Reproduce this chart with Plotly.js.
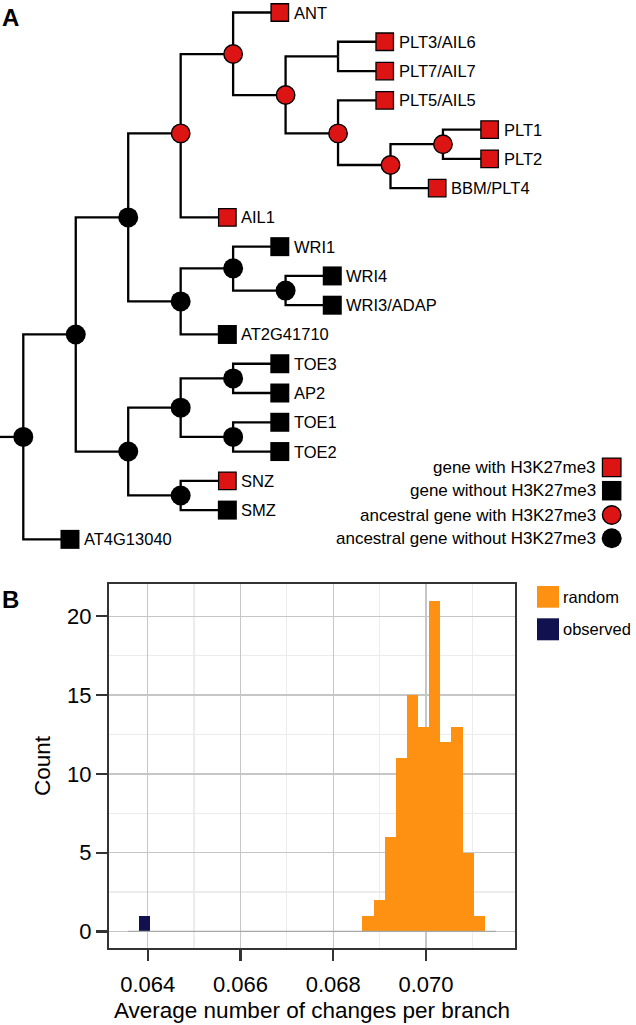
<!DOCTYPE html>
<html>
<head>
<meta charset="utf-8">
<script src="https://cdn.plot.ly/plotly-3.0.1.min.js"></script>
<style>html,body{margin:0;padding:0;background:#fff;}#chart{width:636px;height:1025px;}</style>
</head>
<body>
<div id="chart"></div>
<script>
// ---------------- Panel A data: tree ----------------
const leafNames  = ['ANT','PLT3/AIL6','PLT7/AIL7','PLT5/AIL5','PLT1','PLT2','BBM/PLT4','AIL1','WRI1','WRI4','WRI3/ADAP','AT2G41710','TOE3','AP2','TOE1','TOE2','SNZ','SMZ','AT4G13040'];
const leafParent = ['n4','j','j','n7','n10','n10','n8','n3','n11','n12','n12','n9','n15','n15','n16','n16','n14','n14','root'];
const leafDepth  = [4.89,6.89,6.89,6.89,8.89,8.89,7.89,3.89,4.89,5.89,5.89,3.89,4.89,4.89,4.89,4.89,3.89,3.89,0.89];
const leafRow    = [0,1,2,3,4,5,6,7,8,9,10,11,12,13,14,15,16,17,18];
const leafH3     = [1,1,1,1,1,1,1,1,0,0,0,0,0,0,0,0,1,0,0];

const nodeIds    = ['root','n1','n2','n3','n4','n5','j','n7','n8','n10','n9','n11','n12','n6','n13','n15','n16','n14'];
const nodeParent = [null,'root','n1','n2','n3','n4','n5','n5','n7','n8','n2','n9','n11','n1','n6','n13','n13','n6'];
const nodeDepth  = [0,1,2,3,4,5,6,6,7,8,3,4,5,2,3,4,4,3];
const nodeRow    = [14.5,11.0,7.0,4.13,1.42,2.82,1.5,4.13,5.21,4.5,9.87,8.74,9.5,15.0,13.5,12.5,14.5,16.5];
const nodeH3     = ['no','no','no','yes','yes','yes','none','yes','yes','yes','no','no','no','no','no','no','no','no'];
const rootStemDepth = -0.45;

const legendALabels = ['gene with H3K27me3','gene without H3K27me3','ancestral gene with H3K27me3','ancestral gene without H3K27me3'];

// ---------------- Panel B data: histogram ----------------
const randomBinCenters = [0.06875,0.06899,0.06923,0.06947,0.06971,0.06995,0.07019,0.07043,0.07067,0.07091,0.07115];
const randomCounts     = [1,2,6,11,15,13,21,12,13,5,1];
const observedBinCenters = [0.063935];
const observedCounts     = [1];
const binWidth = 0.00024;
const zeroBinSpan = [0.06357, 0.07151];
const xTickVals = [0.064,0.066,0.068,0.070];
const xTickText = ['0.064','0.066','0.068','0.070'];
const yTickVals = [0,5,10,15,20];

// ---------------- styles ----------------
const RED = '#DC1414', BLACK = '#000000', ORANGE = '#FF9112', NAVY = '#11114F';
const FONT = '"Liberation Sans", Arial, Helvetica, sans-serif';
const W = 636, H = 1025;
const px = v => v / W, py = v => 1 - v / H;

const pos = {};
nodeIds.forEach((id, i) => { pos[id] = {x: nodeDepth[i], y: nodeRow[i]}; });

const ex = [], ey = [];
function elbow(pid, cx, cy) {
  const p = pos[pid];
  ex.push(p.x, p.x, cx, null);
  ey.push(p.y, cy, cy, null);
}
nodeIds.forEach((id, i) => { if (nodeParent[i]) elbow(nodeParent[i], nodeDepth[i], nodeRow[i]); });
leafNames.forEach((n, i) => elbow(leafParent[i], leafDepth[i], leafRow[i]));
ex.push(rootStemDepth, pos.root.x, null); ey.push(pos.root.y, pos.root.y, null);

const pick = (arr, mask) => arr.filter((_, i) => mask(i));

const traces = [
  {type:'scatter', mode:'lines', x:ex, y:ey, xaxis:'x', yaxis:'y', line:{color:BLACK, width:2.3}, hoverinfo:'skip'},
  {type:'scatter', mode:'markers', xaxis:'x', yaxis:'y',
   x:pick(leafDepth, i => leafH3[i]===1), y:pick(leafRow, i => leafH3[i]===1),
   marker:{symbol:'square', size:17.5, color:RED, line:{color:BLACK, width:1.3}}},
  {type:'scatter', mode:'markers', xaxis:'x', yaxis:'y',
   x:pick(leafDepth, i => leafH3[i]===0), y:pick(leafRow, i => leafH3[i]===0),
   marker:{symbol:'square', size:19, color:BLACK, line:{width:0}}},
  {type:'scatter', mode:'markers', xaxis:'x', yaxis:'y',
   x:pick(nodeDepth, i => nodeH3[i]==='yes'), y:pick(nodeRow, i => nodeH3[i]==='yes'),
   marker:{symbol:'circle', size:18.5, color:RED, line:{color:BLACK, width:1.4}}},
  {type:'scatter', mode:'markers', xaxis:'x', yaxis:'y',
   x:pick(nodeDepth, i => nodeH3[i]==='no'), y:pick(nodeRow, i => nodeH3[i]==='no'),
   marker:{symbol:'circle', size:20, color:BLACK, line:{width:0}}},
  // histogram
  {type:'scatter', mode:'lines', x:zeroBinSpan, y:[0,0], xaxis:'x2', yaxis:'y2', line:{color:'#a8a8a8', width:1.3}, hoverinfo:'skip'},
  {type:'bar', x:randomBinCenters, y:randomCounts, width:binWidth, xaxis:'x2', yaxis:'y2', name:'random',
   marker:{color:ORANGE, line:{width:0}}},
  {type:'bar', x:observedBinCenters, y:observedCounts, width:binWidth, xaxis:'x2', yaxis:'y2', name:'observed',
   marker:{color:NAVY, line:{width:0}}}
];

const annotations = [];
leafNames.forEach((n, i) => annotations.push({
  x: leafDepth[i], y: leafRow[i], xref:'x', yref:'y', text:n, showarrow:false,
  xanchor:'left', yanchor:'middle', xshift:12, font:{family:FONT, size:16.5, color:'#000'}
}));
const legAY = [467.3, 490.7, 515, 538.3];
legendALabels.forEach((t, i) => annotations.push({
  x: px(598), y: py(legAY[i]), xref:'paper', yref:'paper', text:t, showarrow:false,
  xanchor:'right', yanchor:'middle', font:{family:FONT, size:17, color:'#000'}
}));
annotations.push({x:px(0), y:py(17), xref:'paper', yref:'paper', text:'<b>A</b>', showarrow:false, xanchor:'left', yanchor:'middle', font:{family:FONT, size:24, color:'#000'}});
annotations.push({x:px(0), y:py(599), xref:'paper', yref:'paper', text:'<b>B</b>', showarrow:false, xanchor:'left', yanchor:'middle', font:{family:FONT, size:24, color:'#000'}});
annotations.push({x:px(561), y:py(597), xref:'paper', yref:'paper', text:'random', showarrow:false, xanchor:'left', yanchor:'middle', font:{family:FONT, size:16.5, color:'#000'}});
annotations.push({x:px(561), y:py(629), xref:'paper', yref:'paper', text:'observed', showarrow:false, xanchor:'left', yanchor:'middle', font:{family:FONT, size:16.5, color:'#000'}});

const sq = (cx, cy, s, fill, lineW) => ({type:'rect', xref:'paper', yref:'paper', x0:px(cx-s/2), x1:px(cx+s/2), y0:py(cy+s/2), y1:py(cy-s/2), fillcolor:fill, line:{color:BLACK, width:lineW}, layer:'above'});
const ci = (cx, cy, s, fill, lineW) => ({type:'circle', xref:'paper', yref:'paper', x0:px(cx-s/2), x1:px(cx+s/2), y0:py(cy+s/2), y1:py(cy-s/2), fillcolor:fill, line:{color:BLACK, width:lineW}, layer:'above'});
const shapes = [
  sq(611.7, legAY[0], 18.5, RED, 1.3),
  sq(611.7, legAY[1], 19.5, BLACK, 0),
  ci(611.7, legAY[2], 18.5, RED, 1.4),
  ci(611.7, legAY[3], 20, BLACK, 0),
  {type:'rect', xref:'paper', yref:'paper', x0:px(537), x1:px(559), y0:py(607.7), y1:py(586), fillcolor:ORANGE, line:{width:0}},
  {type:'rect', xref:'paper', yref:'paper', x0:px(537), x1:px(559), y0:py(640.3), y1:py(618.3), fillcolor:NAVY, line:{width:0}}
];

const layout = {
  width:W, height:H, margin:{l:0, r:0, t:0, b:0},
  paper_bgcolor:'#fff', plot_bgcolor:'#fff', showlegend:false,
  font:{family:FONT, color:'#000'},
  xaxis:{domain:[0,1], range:[-0.444, 11.68], visible:false, fixedrange:true},
  yaxis:{domain:[py(560), 1], range:[18.705, -0.427], visible:false, fixedrange:true},
  xaxis2:{anchor:'y2', domain:[px(109), px(515)], range:[0.063165, 0.07192],
    tickmode:'array', tickvals:xTickVals, ticktext:xTickText,
    ticks:'outside', ticklen:11, tickwidth:2.3, tickcolor:'#333', ticklabelstandoff:5,
    tickfont:{family:FONT, size:22, color:'#000'},
    showgrid:true, gridcolor:'#c6c6c6', gridwidth:1.3,
    minor:{dtick:0.001, tick0:0.063, showgrid:true, gridcolor:'#ececec', gridwidth:1.3, ticks:''},
    showline:true, mirror:true, linecolor:'#333', linewidth:2, zeroline:false,
    title:{text:'Average number of changes per branch', font:{family:FONT, size:22.5, color:'#000'}, standoff:6}},
  yaxis2:{anchor:'x2', domain:[py(948), py(584)], range:[-1.05, 22.05],
    tickmode:'array', tickvals:yTickVals,
    ticks:'outside', ticklen:11, tickwidth:2.3, tickcolor:'#333',
    tickfont:{family:FONT, size:22, color:'#000'},
    showgrid:true, gridcolor:'#c6c6c6', gridwidth:1.3,
    minor:{dtick:2.5, tick0:0, showgrid:true, gridcolor:'#ececec', gridwidth:1.3, ticks:''},
    showline:true, mirror:true, linecolor:'#333', linewidth:2, zeroline:false,
    title:{text:'Count', font:{family:FONT, size:22.5, color:'#000'}, standoff:10}},
  bargap:0, barmode:'overlay',
  annotations:annotations, shapes:shapes
};

Plotly.newPlot('chart', traces, layout, {staticPlot:true, displayModeBar:false});
</script>
</body>
</html>
